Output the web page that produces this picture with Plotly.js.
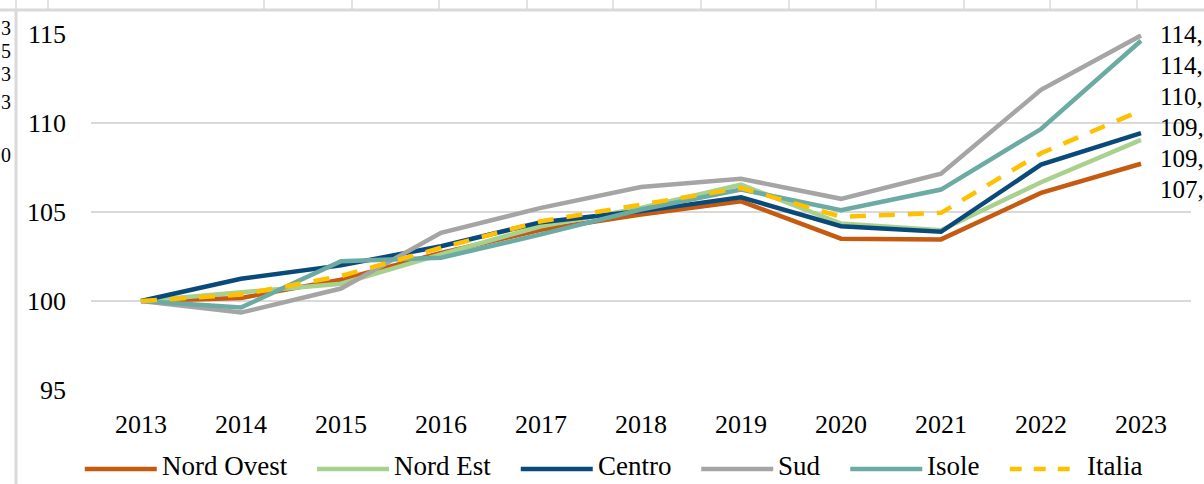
<!DOCTYPE html>
<html>
<head>
<meta charset="utf-8">
<script src="https://cdn.plot.ly/plotly-3.0.1.min.js"></script>
<style>
  html, body { margin: 0; padding: 0; background: #fff; }
  #chart { width: 1204px; height: 484px; }
</style>
</head>
<body>
<div id="chart"></div>
<script>
// ---- data ----
const years      = [2013, 2014, 2015, 2016, 2017, 2018, 2019, 2020, 2021, 2022, 2023];
const seriesNames = ['Nord Ovest', 'Nord Est', 'Centro', 'Sud', 'Isole', 'Italia'];
const nordOvest  = [100, 100.17, 101.2, 102.7, 104.0, 104.86, 105.6, 103.5, 103.46, 106.07, 107.71];
const nordEst    = [100, 100.5, 100.97, 102.62, 104.2, 105.23, 106.54, 104.35, 103.98, 106.67, 109.05];
const centro     = [100, 101.25, 102.0, 103.08, 104.43, 105.05, 105.83, 104.2, 103.89, 107.66, 109.43];
const sud        = [100, 99.35, 100.7, 103.83, 105.23, 106.4, 106.87, 105.74, 107.15, 111.86, 114.92];
const isole      = [100, 99.63, 102.24, 102.43, 103.74, 105.14, 106.26, 105.1, 106.26, 109.66, 114.62];
const italia     = [100, 100.36, 101.4, 102.99, 104.48, 105.42, 106.35, 104.73, 104.95, 108.3, 110.7];
const yTicks     = [95, 100, 105, 110, 115];
const leftCutLabels = ['3', '5', '3', '3', '0'];   // clipped labels of the neighbouring chart (only last digit visible)

// ---- styles ----
const colors = ['#C55A11', '#A9D18E', '#0A4A7A', '#A5A5A5', '#6BABA3', '#FFC000'];
const values = [nordOvest, nordEst, centro, sud, isole, italia];
const FONT = '"Liberation Serif", "Times New Roman", serif';
const W = 1204, H = 484;
const M = {l: 91, r: 13, t: 34, b: 94};
const PW = W - M.l - M.r, PH = H - M.t - M.b;
const DASH = '16px,13px';
const LW = 4.5;
const px = x => (x - M.l) / PW;
const py = y => (H - M.b - y) / PH;

const traces = values.map((v, i) => ({
  type: 'scatter', mode: 'lines', name: seriesNames[i],
  x: years, y: v,
  line: {color: colors[i], width: LW, dash: i === 5 ? DASH : 'solid'},
  showlegend: false, hoverinfo: 'x+y+name'
}));

// ---- end labels (data labels at 2023, spread to avoid overlap; cut at the page edge) ----
const ymin = 95, ymax = 115;
const unit = PH / (ymax - ymin);
const gap = 31 / unit;
let items = values.map((v, i) => ({i, v: v[v.length - 1]})).sort((a, b) => b.v - a.v);
let pos = items.map(o => o.v);
for (let iter = 0; iter < 200; iter++) {
  for (let k = 1; k < pos.length; k++) {
    const d = pos[k - 1] - pos[k];
    if (d < gap) { const s = (gap - d) / 2; pos[k - 1] += s; pos[k] -= s; }
  }
  if (pos[0] > ymax) { const s = pos[0] - ymax; pos[0] -= s; }
}
const annotations = items.map((o, k) => ({
  xref: 'paper', yref: 'y', x: px(1159), y: pos[k], xanchor: 'left', yanchor: 'middle',
  text: Math.floor(o.v) + ',', showarrow: false, borderpad: 0,
  font: {family: FONT, size: 25, color: '#000'}
}));

// clipped labels at the left edge (from a neighbouring chart)
const leftCutY = [28, 51, 74, 102, 155];
leftCutLabels.forEach((t, k) => annotations.push({
  xref: 'paper', yref: 'paper', x: px(0), y: py(leftCutY[k]), xanchor: 'left', yanchor: 'middle',
  text: t, showarrow: false, borderpad: 0, font: {family: FONT, size: 20, color: '#000'}
}));

// ---- manual legend ----
const shapes = [];
const LFS = 27;
const cv = document.createElement('canvas').getContext('2d');
cv.font = LFS + 'px "Liberation Serif"';
const SAMPLE = 72, TGAP = 4, IGAP = 31;
const widths = seriesNames.map(n => cv.measureText(n).width);
const total = widths.reduce((a, w) => a + SAMPLE + TGAP + w, 0) + IGAP * (seriesNames.length - 1);
let cx = 613 - total / 2;
const legY = py(466);
seriesNames.forEach((n, i) => {
  shapes.push({type: 'line', xref: 'paper', yref: 'paper', x0: px(cx), x1: px(cx + SAMPLE), y0: py(469), y1: py(469),
    line: {color: colors[i], width: LW, dash: i === 5 ? '12px,12px' : 'solid'}});
  annotations.push({xref: 'paper', yref: 'paper', x: px(cx + SAMPLE + TGAP), y: legY, xanchor: 'left', yanchor: 'middle',
    text: n, showarrow: false, font: {family: FONT, size: LFS, color: '#000'}, borderpad: 0});
  cx += SAMPLE + TGAP + widths[i] + IGAP;
});

// ---- spreadsheet frame around the chart object ----
const GRID = '#D9D9D9';
shapes.push({type: 'line', xref: 'paper', yref: 'paper', x0: px(16), x1: px(16), y0: py(9), y1: py(H + 2), line: {color: GRID, width: 3}});
shapes.push({type: 'line', xref: 'paper', yref: 'paper', x0: px(0), x1: px(W), y0: py(10), y1: py(10), line: {color: GRID, width: 3}});
[16, 48, 264, 352, 439, 527, 613, 701, 789, 876, 964, 1050, 1137].forEach(x =>
  shapes.push({type: 'line', xref: 'paper', yref: 'paper', x0: px(x), x1: px(x), y0: py(0), y1: py(9), line: {color: GRID, width: 1.5}}));

const layout = {
  width: W, height: H,
  margin: {l: M.l, r: M.r, t: M.t, b: M.b, pad: 0},
  paper_bgcolor: '#fff', plot_bgcolor: '#fff',
  font: {family: FONT, size: 26, color: '#000'},
  showlegend: false,
  xaxis: {
    range: [2012.5, 2023.5], tickmode: 'array', tickvals: years, ticktext: years.map(String),
    showgrid: false, zeroline: false, showline: false, ticks: '',
    ticklabelstandoff: 16, tickfont: {family: FONT, size: 26, color: '#000'}, fixedrange: true
  },
  yaxis: {
    range: [ymin, ymax], tickmode: 'array', tickvals: yTicks, ticktext: yTicks.map(String),
    showgrid: true, gridcolor: GRID, gridwidth: 2, zeroline: false, showline: false, ticks: '',
    ticklabelstandoff: 24, tickfont: {family: FONT, size: 26, color: '#000'}, fixedrange: true
  },
  annotations, shapes
};

Plotly.newPlot('chart', traces, layout, {displayModeBar: false, staticPlot: true});
</script>
</body>
</html>
